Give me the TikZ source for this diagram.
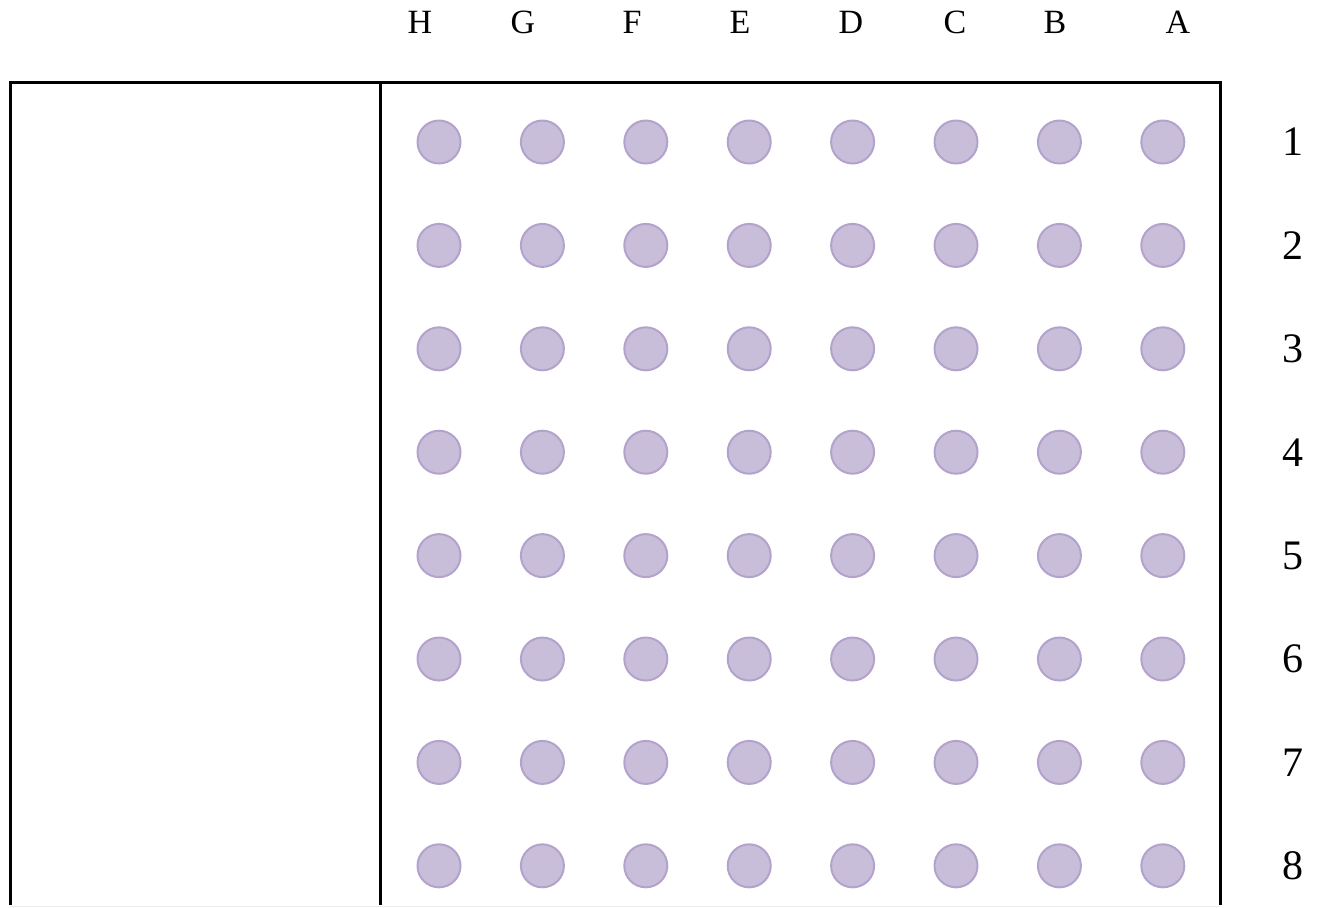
\documentclass[tikz,border=0pt]{standalone}
\usepackage{fontspec}
\setmainfont{Liberation Serif}
\definecolor{wellfill}{HTML}{C8BED9}
\definecolor{welledge}{HTML}{B3A3CC}
\tikzset{
	well/.style={circle, fill=wellfill, draw=welledge, line width=1pt, minimum size=21.5pt, inner sep=0pt},
	collabel/.style={font=\fontsize{17}{17}\selectfont},
	rowlabel/.style={font=\fontsize{21}{21}\selectfont}
}
\begin{document}
\begin{tikzpicture}[x=0.5pt, y=-0.5pt]
		\useasboundingbox (0, 0) rectangle (1320, 907);
		% plate outline, open at the bottom
		\draw [line width=1.5pt] (10, 905) -- (10, 82) -- (1220, 82) -- (1220, 905);
		\draw [line width=1.5pt] (380, 82) -- (380, 905);
		\draw [gray!15, line width=0.5pt] (10, 906) -- (1220, 906);
		% column letters
		\foreach \lab/\x in {H/420, G/523, F/632, E/740, D/851, C/955, B/1055, A/1178}
			\node [collabel] (col-\lab) at (\x, 22) {\lab};
		% row numbers and wells
		\foreach \r in {1,...,8} {
			\node [rowlabel] (row-\r) at (1293, {142 + (\r-1)*103.4}) {\r};
			\foreach \c in {1,...,8}
				\node [well] (well-\r-\c) at ({439 + (\c-1)*103.4}, {142 + (\r-1)*103.4}) {};
		}
	\end{tikzpicture}
\end{document}
